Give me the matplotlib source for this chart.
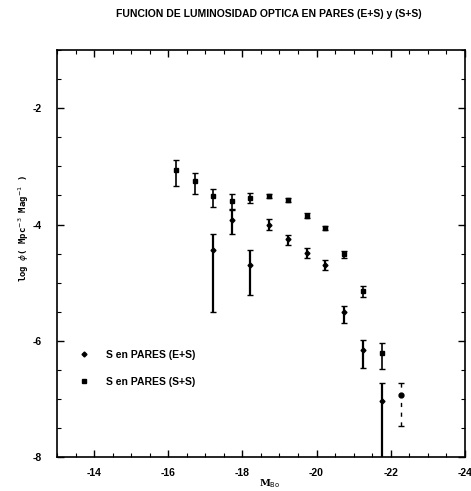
#!/usr/bin/env python3

import matplotlib
matplotlib.use('Agg')
import matplotlib.pyplot as plt
from matplotlib.lines import Line2D
from matplotlib.ticker import MultipleLocator

# S en PARES (S+S)
ss_mag = [-16.2, -16.72, -17.22, -17.71, -18.21, -18.72, -19.24, -19.74, -20.24, -20.74, -21.26, -21.76]
ss_phi = [-3.07, -3.25, -3.51, -3.60, -3.55, -3.51, -3.58, -3.85, -4.06, -4.51, -5.15, -6.21]
ss_err_lo = [0.27, 0.22, 0.18, 0.13, 0.08, 0.04, 0.04, 0.04, 0.04, 0.06, 0.09, 0.27]
ss_err_hi = [0.18, 0.14, 0.12, 0.12, 0.09, 0.04, 0.04, 0.04, 0.04, 0.06, 0.09, 0.18]

# S en PARES (E+S)
es_mag = [-17.22, -17.71, -18.21, -18.72, -19.24, -19.74, -20.24, -20.74, -21.26, -21.76]
es_phi = [-4.44, -3.93, -4.69, -4.00, -4.25, -4.49, -4.69, -5.51, -6.16, -7.03]
es_err_lo = [1.06, 0.24, 0.53, 0.10, 0.11, 0.09, 0.09, 0.19, 0.31, 1.20]
es_err_hi = [0.28, 0.18, 0.25, 0.09, 0.07, 0.08, 0.08, 0.11, 0.18, 0.31]

# last point, dashed lower bar
last_mag = [-22.28]
last_phi = [-6.93]
last_err_lo = [0.54]
last_err_hi = [0.21]

plt.rcParams['font.family'] = ['Liberation Sans', 'DejaVu Sans']
plt.rcParams['axes.unicode_minus'] = False

fig = plt.figure(figsize=(4.71, 4.91), dpi=100)
ax = fig.add_axes([0.121, 0.069, 0.866, 0.829])

ax.errorbar(ss_mag, ss_phi, yerr=[ss_err_lo, ss_err_hi], fmt='s', color='black',
            markersize=3.5, elinewidth=1.2, capsize=2, capthick=1)
ax.errorbar(es_mag, es_phi, yerr=[es_err_lo, es_err_hi], fmt='D', color='black',
            markersize=2.5, elinewidth=1.6, capsize=2, capthick=1)
eb = ax.errorbar(last_mag, last_phi, yerr=[last_err_lo, last_err_hi], fmt='o', color='black',
                 markersize=3.5, elinewidth=1.0, capsize=2.5, capthick=1)
eb[2][0].set_linestyle((0, (3, 4)))

ax.set_xlim(-13, -24)
ax.set_ylim(-8, -1)
ax.xaxis.set_major_locator(MultipleLocator(2))
ax.xaxis.set_minor_locator(MultipleLocator(0.5))
ax.yaxis.set_major_locator(MultipleLocator(2))
ax.yaxis.set_minor_locator(MultipleLocator(0.5))
ax.set_xticks([-14, -16, -18, -20, -22, -24])
ax.tick_params(which='both', direction='in', top=True, right=True, labelsize=7.5)
ax.tick_params(which='major', length=5, width=1)
ax.tick_params(which='minor', length=3, width=0.8)
for lab in ax.get_xticklabels() + ax.get_yticklabels():
    lab.set_fontweight('bold')
ax.tick_params(axis='x', pad=8)
ax.tick_params(axis='y', pad=11)
for s in ax.spines.values():
    s.set_linewidth(1.2)

handles = [Line2D([], [], marker='D', color='black', ls='none', markersize=2.5),
           Line2D([], [], marker='s', color='black', ls='none', markersize=3.5)]
ax.legend(handles, ['S en PARES (E+S)', 'S en PARES (S+S)'], loc='lower left',
          bbox_to_anchor=(0.03, 0.15), frameon=False,
          handletextpad=1.6, labelspacing=1.6, handlelength=1.0,
          prop={'weight': 'bold', 'size': 7.5})

fig.text(0.57, 0.972, 'FUNCION DE LUMINOSIDAD OPTICA EN PARES (E+S) y (S+S)',
         ha='center', va='center', fontsize=7.5, fontweight='bold')
fig.text(0.05, 0.535, r'log $\phi$( Mpc$^{-3}$ Mag$^{-1}$ )', rotation=90,
         ha='center', va='center', fontsize=6.5, fontweight='bold', family='DejaVu Sans Mono')
fig.text(0.573, 0.015, r'M$_{\rm Bo}$', ha='center', va='center', fontsize=7,
         fontweight='bold', family='DejaVu Serif')

fig.savefig('out.png', dpi=100)
